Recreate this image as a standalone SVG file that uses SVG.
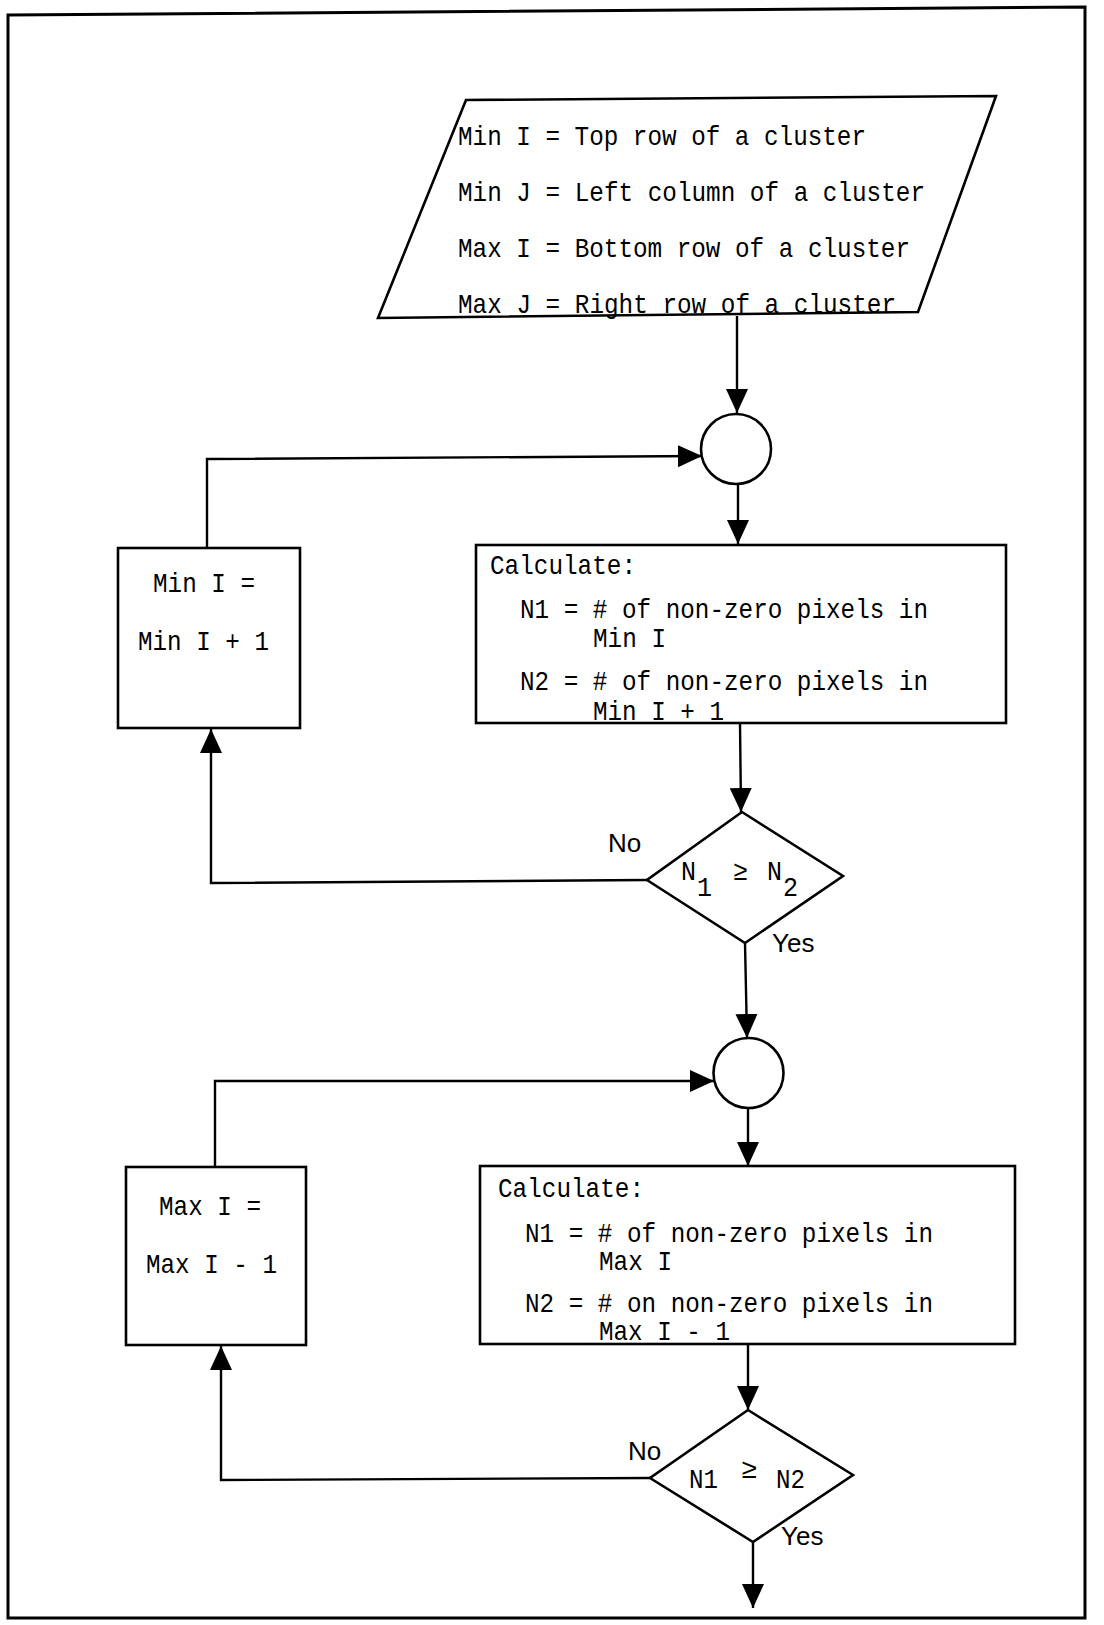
<svg xmlns="http://www.w3.org/2000/svg" width="1104" height="1625" viewBox="0 0 1104 1625">
<style>
.shape{fill:none;stroke:#000;stroke-width:2.6;stroke-linejoin:miter}
.conn{fill:none;stroke:#000;stroke-width:2.4}
.t{font-family:"Liberation Mono","DejaVu Sans Mono",monospace;font-size:27.5px;fill:#000}
.lbl{font-family:"Liberation Sans Narrow","Liberation Sans",sans-serif;font-size:26px;fill:#000}
</style>
<defs>
<marker id="arr" viewBox="0 0 24 24" refX="24" refY="12" markerWidth="24" markerHeight="24" markerUnits="userSpaceOnUse" orient="auto">
<path d="M0,1 L24,12 L0,23 Z" fill="#000"/>
</marker>
</defs>
<rect width="1104" height="1625" fill="#fff"/>
<path d="M8,15 L1085,7 L1085,1618 L8,1618 Z" fill="none" stroke="#000" stroke-width="3"/>

<g id="input">
<path class="shape" d="M466,100 L996,96 L918,312 L378,318 Z"/>
<text class="t" x="458" y="145" textLength="408" lengthAdjust="spacingAndGlyphs">Min I = Top row of a cluster</text>
<text class="t" x="458" y="201" textLength="467" lengthAdjust="spacingAndGlyphs">Min J = Left column of a cluster</text>
<text class="t" x="458" y="257" textLength="452" lengthAdjust="spacingAndGlyphs">Max I = Bottom row of a cluster</text>
<text class="t" x="458" y="313" textLength="438" lengthAdjust="spacingAndGlyphs">Max J = Right row of a cluster</text>
</g>

<g id="connector1">
<circle class="shape" cx="736" cy="449" r="35"/>
</g>

<g id="minI">
<rect class="shape" x="118" y="548" width="182" height="180"/>
<text class="t" x="153" y="592" textLength="102" lengthAdjust="spacingAndGlyphs">Min I =</text>
<text class="t" x="138" y="650" textLength="131" lengthAdjust="spacingAndGlyphs">Min I + 1</text>
</g>

<g id="calc1">
<rect class="shape" x="476" y="545" width="530" height="178"/>
<text class="t" x="490" y="574" textLength="146" lengthAdjust="spacingAndGlyphs">Calculate:</text>
<text class="t" x="520" y="618" textLength="408" lengthAdjust="spacingAndGlyphs">N1 = # of non-zero pixels in</text>
<text class="t" x="593" y="647" textLength="73" lengthAdjust="spacingAndGlyphs">Min I</text>
<text class="t" x="520" y="690" textLength="408" lengthAdjust="spacingAndGlyphs">N2 = # of non-zero pixels in</text>
<text class="t" x="593" y="720" textLength="131" lengthAdjust="spacingAndGlyphs">Min I + 1</text>
</g>

<g id="decision1">
<path class="shape" d="M742,812 L843,876 L745,943 L647,880 Z"/>
<text class="t" x="681" y="880" textLength="15" lengthAdjust="spacingAndGlyphs">N</text>
<text class="t" x="697" y="896" textLength="15" lengthAdjust="spacingAndGlyphs">1</text>
<text class="t" x="733" y="880" textLength="15" lengthAdjust="spacingAndGlyphs">≥</text>
<text class="t" x="767" y="880" textLength="15" lengthAdjust="spacingAndGlyphs">N</text>
<text class="t" x="783" y="896" textLength="15" lengthAdjust="spacingAndGlyphs">2</text>
</g>

<g id="connector2">
<circle class="shape" cx="748.5" cy="1073" r="35"/>
</g>

<g id="maxI">
<rect class="shape" x="126" y="1167" width="180" height="178"/>
<text class="t" x="159" y="1215" textLength="102" lengthAdjust="spacingAndGlyphs">Max I =</text>
<text class="t" x="146" y="1273" textLength="131" lengthAdjust="spacingAndGlyphs">Max I - 1</text>
</g>

<g id="calc2">
<rect class="shape" x="480" y="1166" width="535" height="178"/>
<text class="t" x="498" y="1197" textLength="146" lengthAdjust="spacingAndGlyphs">Calculate:</text>
<text class="t" x="525" y="1242" textLength="408" lengthAdjust="spacingAndGlyphs">N1 = # of non-zero pixels in</text>
<text class="t" x="599" y="1270" textLength="73" lengthAdjust="spacingAndGlyphs">Max I</text>
<text class="t" x="525" y="1312" textLength="408" lengthAdjust="spacingAndGlyphs">N2 = # on non-zero pixels in</text>
<text class="t" x="599" y="1340" textLength="131" lengthAdjust="spacingAndGlyphs">Max I - 1</text>
</g>

<g id="decision2">
<path class="shape" d="M748,1410 L853,1475 L753,1542 L650,1478 Z"/>
<text class="t" x="689" y="1488" textLength="29" lengthAdjust="spacingAndGlyphs">N1</text>
<text class="t" x="741" y="1478" font-size="22">≥</text>
<text class="t" x="776" y="1488" textLength="29" lengthAdjust="spacingAndGlyphs">N2</text>
</g>

<g id="connectors">
<path class="conn" d="M737,316 L737,413" marker-end="url(#arr)"/>
<path class="conn" d="M738,484 L738,544" marker-end="url(#arr)"/>
<path class="conn" d="M740,723 L741,812" marker-end="url(#arr)"/>
<path class="conn" d="M647,880 L211,883 L211,729" marker-end="url(#arr)"/>
<path class="conn" d="M207,548 L207,459 L702,456" marker-end="url(#arr)"/>
<path class="conn" d="M745,943 L747,1038" marker-end="url(#arr)"/>
<path class="conn" d="M748,1108 L748,1166" marker-end="url(#arr)"/>
<path class="conn" d="M748,1344 L748,1410" marker-end="url(#arr)"/>
<path class="conn" d="M650,1478 L221,1480 L221,1346" marker-end="url(#arr)"/>
<path class="conn" d="M215,1167 L215,1081 L714,1081" marker-end="url(#arr)"/>
<path class="conn" d="M753,1542 L753,1608" marker-end="url(#arr)"/>
<text class="lbl" x="608" y="852">No</text>
<text class="lbl" x="772" y="952">Yes</text>
<text class="lbl" x="628" y="1460">No</text>
<text class="lbl" x="781" y="1545">Yes</text>
</g>
</svg>
